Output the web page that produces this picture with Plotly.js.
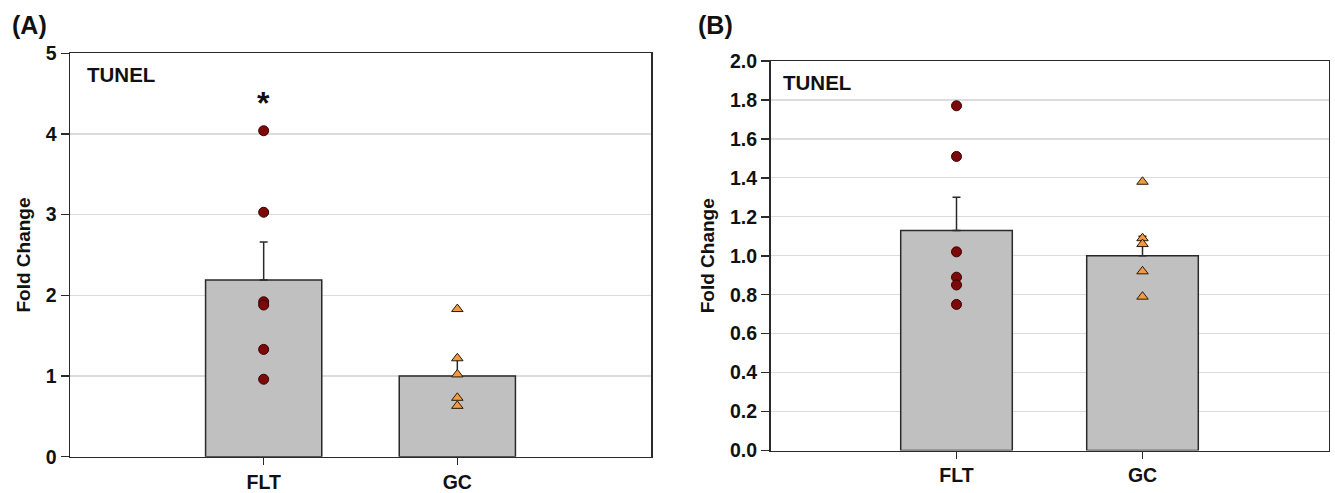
<!DOCTYPE html>
<html>
<head>
<meta charset="utf-8">
<script src="https://cdn.plot.ly/plotly-3.0.1.min.js"></script>
<style>
  html, body { margin: 0; padding: 0; background: #ffffff; }
  #chart { width: 1335px; height: 493px; }
</style>
</head>
<body>
<div id="chart"></div>
<script>
// ---- data ----
const categories = ['FLT', 'GC'];

const A_means = [2.19, 1.00];
const A_sem = [0.47, 0.21];
const A_flt_points = [4.04, 3.03, 1.92, 1.88, 1.33, 0.96];
const A_gc_points = [1.83, 1.22, 1.02, 0.73, 0.63];
const A_star_y = 4.38;

const B_means = [1.13, 1.00];
const B_sem = [0.17, 0.10];
const B_flt_points = [1.77, 1.51, 1.02, 0.89, 0.85, 0.75];
const B_gc_points = [1.38, 1.09, 1.06, 0.92, 0.79];

const A_yticks = [0, 1, 2, 3, 4, 5];
const B_yticks = [0.0, 0.2, 0.4, 0.6, 0.8, 1.0, 1.2, 1.4, 1.6, 1.8, 2.0];

// ---- styling ----
const FONT = 'Liberation Sans, Arial, Helvetica, sans-serif';
const barStyle = {
  type: 'bar', width: 0.6,
  marker: { color: '#c0c0c0', line: { color: '#2a2a2a', width: 1.5 } },
  hoverinfo: 'skip', showlegend: false
};
function errBar(sem) {
  return { type: 'data', symmetric: false, array: sem, arrayminus: sem.map(() => 0),
           color: '#2a2a2a', thickness: 1.5, width: 4 };
}
function rep(cat, arr) { return arr.map(() => cat); }

const circleMarker = { symbol: 'circle', size: 10, color: '#7d0a0a', line: { color: '#3a0000', width: 1 } };
const triMarker = { symbol: 'triangle-up', size: 10, color: '#f29a3e', line: { color: '#2a1a0a', width: 1 } };

const traces = [
  Object.assign({}, barStyle, { x: categories, y: A_means, error_y: errBar(A_sem), xaxis: 'x', yaxis: 'y' }),
  { type: 'scatter', mode: 'markers', x: rep(categories[0], A_flt_points), y: A_flt_points,
    marker: circleMarker, xaxis: 'x', yaxis: 'y', showlegend: false },
  { type: 'scatter', mode: 'markers', x: rep(categories[1], A_gc_points), y: A_gc_points,
    marker: triMarker, xaxis: 'x', yaxis: 'y', showlegend: false },
  Object.assign({}, barStyle, { x: categories, y: B_means, error_y: errBar(B_sem), xaxis: 'x2', yaxis: 'y2' }),
  { type: 'scatter', mode: 'markers', x: rep(categories[0], B_flt_points), y: B_flt_points,
    marker: circleMarker, xaxis: 'x2', yaxis: 'y2', showlegend: false },
  { type: 'scatter', mode: 'markers', x: rep(categories[1], B_gc_points), y: B_gc_points,
    marker: triMarker, xaxis: 'x2', yaxis: 'y2', showlegend: false }
];

const tickFont = { family: FONT, size: 19.5, color: '#111111', weight: 'bold' };
function xAxis(domain, anchor) {
  return {
    domain: domain, anchor: anchor, type: 'category', range: [-1, 2],
    showline: true, linecolor: '#2a2a2a', linewidth: 1.5, mirror: true,
    ticks: 'outside', ticklen: 7, tickwidth: 1.5, tickcolor: '#2a2a2a',
    showgrid: false, zeroline: false, tickfont: tickFont, fixedrange: true
  };
}
function yAxis(domain, anchor, range, ticks, fmt, titleText) {
  return {
    domain: domain, anchor: anchor, range: range,
    tickmode: 'array', tickvals: ticks, tickformat: fmt,
    showline: true, linecolor: '#2a2a2a', linewidth: 1.5, mirror: true,
    ticks: 'outside', ticklen: 8, tickwidth: 1.5, tickcolor: '#2a2a2a',
    showgrid: true, gridcolor: '#dcdcdc', gridwidth: 1.2, zeroline: false,
    tickfont: tickFont, fixedrange: true,
    title: { text: titleText, font: { family: FONT, size: 19, color: '#111111', weight: 'bold' }, standoff: 10 }
  };
}

const layout = {
  width: 1335, height: 493,
  margin: { l: 0, r: 0, t: 0, b: 0 },
  paper_bgcolor: '#ffffff', plot_bgcolor: '#ffffff',
  showlegend: false,
  xaxis: xAxis([70 / 1335, 651 / 1335], 'y'),
  yaxis: yAxis([(493 - 456.7) / 493, (493 - 53.3) / 493], 'x', [0, 5], A_yticks, 'd', 'Fold Change'),
  xaxis2: xAxis([770.5 / 1335, 1328.5 / 1335], 'y2'),
  yaxis2: yAxis([(493 - 450.5) / 493, (493 - 61) / 493], 'x2', [0, 2], B_yticks, '.1f', 'Fold Change'),
  annotations: [
    { text: '(A)', xref: 'paper', yref: 'paper', x: 10 / 1335, y: (493 - 25) / 493,
      xanchor: 'left', yanchor: 'middle', showarrow: false,
      font: { family: FONT, size: 25, color: '#111111', weight: 'bold' } },
    { text: '(B)', xref: 'paper', yref: 'paper', x: 696 / 1335, y: (493 - 25) / 493,
      xanchor: 'left', yanchor: 'middle', showarrow: false,
      font: { family: FONT, size: 25, color: '#111111', weight: 'bold' } },
    { text: 'TUNEL', xref: 'paper', yref: 'paper', x: 85 / 1335, y: (493 - 74) / 493,
      xanchor: 'left', yanchor: 'middle', showarrow: false,
      font: { family: FONT, size: 20.5, color: '#111111', weight: 'bold' } },
    { text: 'TUNEL', xref: 'paper', yref: 'paper', x: 781 / 1335, y: (493 - 82) / 493,
      xanchor: 'left', yanchor: 'middle', showarrow: false,
      font: { family: FONT, size: 20.5, color: '#111111', weight: 'bold' } },
    { text: '*', xref: 'x', yref: 'y', x: categories[0], y: A_star_y,
      xanchor: 'center', yanchor: 'middle', showarrow: false,
      font: { family: FONT, size: 32, color: '#111111', weight: 'bold' } }
  ]
};

Plotly.newPlot('chart', traces, layout, { displayModeBar: false, staticPlot: true });
</script>
</body>
</html>
